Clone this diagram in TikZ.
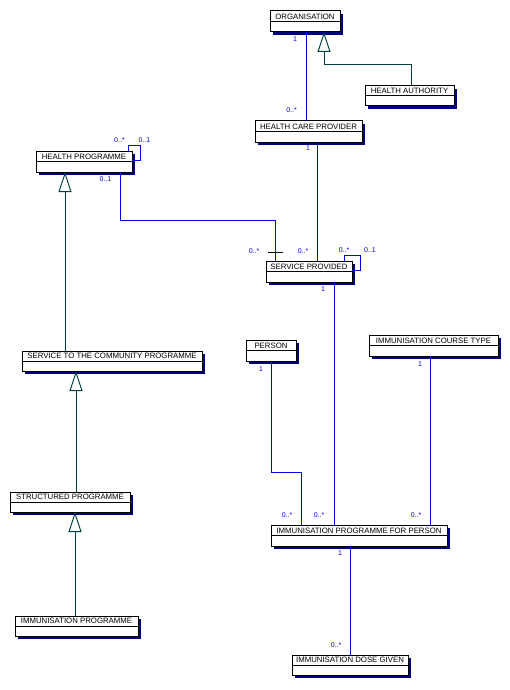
\documentclass[tikz,border=0pt]{standalone}
\usepackage{fontspec}
\setmainfont{Liberation Sans}
\usetikzlibrary{calc,arrows.meta}
\definecolor{assocblue}{RGB}{0,0,225}
\definecolor{genteal}{RGB}{0,64,64}
\definecolor{shadownavy}{RGB}{0,0,128}
\tikzset{
  clsbox/.style={draw=black, fill=white, line width=1pt, inner sep=0pt, outer sep=0pt},
  clsline/.style={draw=black, line width=1pt},
  clsshadow/.style={fill=shadownavy},
  clstitle/.style={inner sep=0pt, font=\fontsize{7.8}{8}\selectfont},
  assoc/.style={draw=assocblue, line width=1pt},
  gen/.style={draw=genteal, line width=1pt, -{Triangle[open, length=20pt, width=13pt, fill=white]}},
  mult/.style={text=assocblue, inner sep=0pt, font=\fontsize{7}{7}\selectfont},
  tick/.style={draw=black, line width=1pt},
}
\newcommand\umlclass[6]{%
  \fill[clsshadow] (#2+3,#3+3) rectangle (#4+3,#5+3);
  \node[clsbox, anchor=north west, minimum width={#4-#2}, minimum height={#5-#3}] (#1) at (#2,#3) {};
  \draw[clsline] (#1.west) -- (#1.east);
  \node[clstitle] (#1-t) at ($(#1.north)!0.26!(#1.south)$) {#6};
}
\begin{document}
\begin{tikzpicture}[x=1pt,y=-1pt]
\useasboundingbox[fill=white] (0,0) rectangle (510,690);

% classes
\umlclass{org}{270}{11}{340}{32}{ORGANISATION}
\umlclass{ha}{365}{86}{454}{106}{HEALTH AUTHORITY}
\umlclass{hcp}{255}{121}{362}{142}{HEALTH CARE PROVIDER}
\umlclass{hp}{36}{151}{132}{172}{HEALTH PROGRAMME}
\umlclass{sp}{266}{261}{352}{282}{SERVICE PROVIDED}
\umlclass{stcp}{22}{351}{202}{371}{SERVICE TO THE COMMUNITY PROGRAMME}
\umlclass{strp}{10}{492}{130}{512}{STRUCTURED PROGRAMME}
\umlclass{ip}{15}{616}{138}{636}{IMMUNISATION PROGRAMME}
\umlclass{person}{246}{340}{296}{361}{PERSON}
\umlclass{ict}{369}{335}{498}{356}{IMMUNISATION COURSE TYPE}
\umlclass{ipfp}{271}{525}{447}{546}{IMMUNISATION PROGRAMME FOR PERSON}
\umlclass{idg}{292}{655}{408}{675}{IMMUNISATION DOSE GIVEN}

% generalisations
\draw[gen] (411.7,0 |- ha.north) -- (411.7,65) -- (324,65) -- (324,0 |- org.south);
\draw[gen] (65,0 |- stcp.north) -- (65,0 |- hp.south);
\draw[gen] (76,0 |- strp.north) -- (76,0 |- stcp.south);
\draw[gen] (75,0 |- ip.north) -- (75,0 |- strp.south);

% associations
\draw[assoc] (306.7,0 |- org.south) -- (306.7,0 |- hcp.north);
\draw[assoc] (317,0 |- hcp.south) -- (317,0 |- sp.north);
\draw[assoc] (128,0 |- hp.north) -- (128,145) -- (140,145) -- (140,160) -- (hp.east |- 0,160);
\draw[assoc] (120,0 |- hp.south) -- (120,220) -- (275,220) -- (275,0 |- sp.north);
\draw[tick] (268,252) -- (283,252);
\draw[assoc] (344,0 |- sp.north) -- (344,255) -- (360,255) -- (360,270) -- (sp.east |- 0,270);
\draw[assoc] (334,0 |- sp.south) -- (334,0 |- ipfp.north);
\draw[assoc] (271.7,0 |- person.south) -- (271.7,472) -- (301,472) -- (301,0 |- ipfp.north);
\draw[assoc] (430.5,0 |- ict.south) -- (430.5,0 |- ipfp.north);
\draw[assoc] (350.5,0 |- ipfp.south) -- (350.5,0 |- idg.north);

% multiplicities
\node[mult] (m1) at (295,39) {1};
\node[mult] (m2) at (291.5,110) {0..*};
\node[mult] (m3) at (308,148) {1};
\node[mult] (m4) at (119.5,140) {0..*};
\node[mult] (m5) at (144.5,140) {0..1};
\node[mult] (m6) at (105.5,179) {0..1};
\node[mult] (m7) at (254,251) {0..*};
\node[mult] (m8) at (303,251) {0..*};
\node[mult] (m9) at (344,250) {0..*};
\node[mult] (m10) at (370,250) {0..1};
\node[mult] (m11) at (323,289) {1};
\node[mult] (m12) at (261,369) {1};
\node[mult] (m13) at (420,364) {1};
\node[mult] (m14) at (287,515) {0..*};
\node[mult] (m15) at (319,515) {0..*};
\node[mult] (m16) at (416,515) {0..*};
\node[mult] (m17) at (340,553) {1};
\node[mult] (m18) at (336,645) {0..*};
\end{tikzpicture}
\end{document}
